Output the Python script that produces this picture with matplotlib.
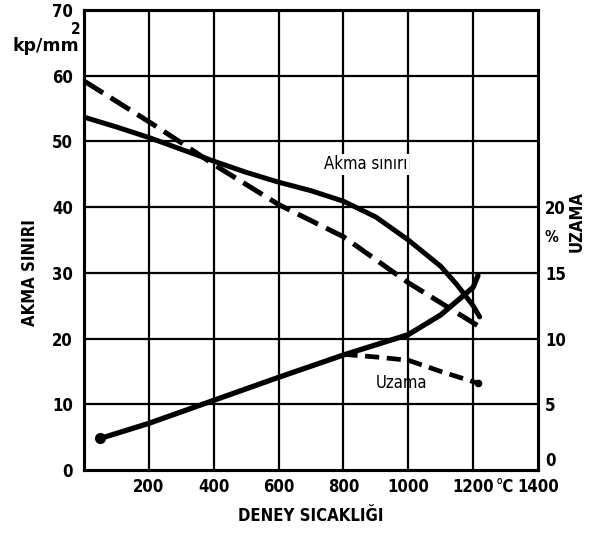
import matplotlib
matplotlib.use("Agg")
import matplotlib.pyplot as plt

# Data (temperature in °C)
akma_solid_T = [0, 100, 200, 300, 400, 500, 600, 700, 800, 900, 1000, 1100, 1150, 1200, 1220]
akma_solid_v = [53.7, 52.2, 50.6, 48.8, 47.0, 45.3, 43.8, 42.5, 40.9, 38.5, 35.0, 31.0, 28.2, 25.0, 23.3]

akma_dash_T = [0, 200, 300, 400, 600, 800, 1000, 1200, 1220]
akma_dash_v = [59.2, 53.0, 49.8, 46.5, 40.4, 35.5, 28.5, 22.4, 21.8]

uzama_T = [50, 200, 400, 600, 800, 1000, 1100, 1200, 1215]
uzama_v = [2.4, 3.55, 5.3, 7.05, 8.75, 10.3, 11.8, 13.9, 14.8]

uzama_dash_T = [800, 900, 1000, 1100, 1215]
uzama_dash_v = [8.8, 8.6, 8.35, 7.5, 6.6]

x_ticks = [200, 400, 600, 800, 1000, 1200, 1400]
y_left_ticks = [0, 10, 20, 30, 40, 50, 60, 70]
y_right_ticks = [0, 5, 10, 15, 20]

plt.rcParams['font.family'] = ['DejaVu Sans']
plt.rcParams['font.stretch'] = 'condensed'
fig = plt.figure(figsize=(5.92, 5.33), dpi=100)
ax = fig.add_axes([84/592, 1-470/533, (538-84)/592, (470-10)/533])
ax.set_xlim(0, 1400)
ax.set_ylim(0, 70)

for xv in [200, 400, 600, 800, 1000, 1200]:
    ax.axvline(xv, color='black', lw=1.6, zorder=1)
for yv in [10, 20, 30, 40, 50, 60]:
    ax.axhline(yv, color='black', lw=1.6, zorder=1)

ax.plot(akma_solid_T, akma_solid_v, color='black', lw=3.6, solid_capstyle='round', zorder=3)
ax.plot(akma_dash_T, akma_dash_v, color='black', lw=3.6, linestyle=(0, (4.5, 1.8)), zorder=3)

ax2 = ax.twinx()
ax2.set_ylim(0, 35)
ax2.plot(uzama_T, uzama_v, color='black', lw=3.8, solid_capstyle='round', zorder=3)
ax2.plot(uzama_T[:1], uzama_v[:1], 'o', color='black', ms=7)
ax2.plot(uzama_dash_T, uzama_dash_v, color='black', lw=3.4, linestyle=(0, (3, 1.6)), zorder=3)
ax2.plot(uzama_dash_T[-1:], uzama_dash_v[-1:], 'o', color='black', ms=4.5)

ax.set_xticks(x_ticks)
ax.set_xticklabels([str(t) for t in x_ticks], fontweight='bold')
ax.set_yticks(y_left_ticks)
ax.set_yticklabels([str(t) for t in y_left_ticks], fontweight='bold')
ax2.set_yticks(y_right_ticks)
ax2.set_yticklabels([str(t) for t in y_right_ticks], fontweight='bold')
for a in (ax, ax2):
    a.tick_params(length=0, labelsize=12, pad=6)
    for s in a.spines.values():
        s.set_linewidth(2.2)
ax.tick_params(axis='y', pad=8)
ax2.tick_params(axis='y', pad=5)
ax2.get_yticklabels()[0].set_verticalalignment('bottom')

fig.text(505/592, 1-487/533, '°C', ha='center', va='center', fontsize=12, fontweight='bold')
ax.set_xlabel('DENEY SICAKLIĞI', fontsize=12, labelpad=8, fontweight='bold')
ax.set_ylabel('AKMA SINIRI', fontsize=12, labelpad=4, fontweight='bold')
ax.yaxis.set_label_coords(-0.1, 0.43)

fig.text(577/592, 1-222/533, 'UZAMA', fontsize=12, rotation=90, ha='center', va='center', fontweight='bold')
fig.text(13/592, 1-46/533, 'kp/mm', fontsize=12.5, ha='left', va='center', fontweight='bold',
         fontstretch='normal')
fig.text(76/592, 1-29/533, '2', fontsize=11, ha='center', va='center', fontweight='bold')
fig.text(551/592, 1-237/533, '%', fontsize=11, ha='center', va='center', fontweight='bold')

ax.text(870, 46.5, 'Akma sınırı', fontsize=12, ha='center', va='center',
        bbox=dict(facecolor='white', edgecolor='none', pad=1), zorder=2)
ax2.text(980, 6.6, 'Uzama', fontsize=12, ha='center', va='center')

fig.savefig('out.png', dpi=100)
